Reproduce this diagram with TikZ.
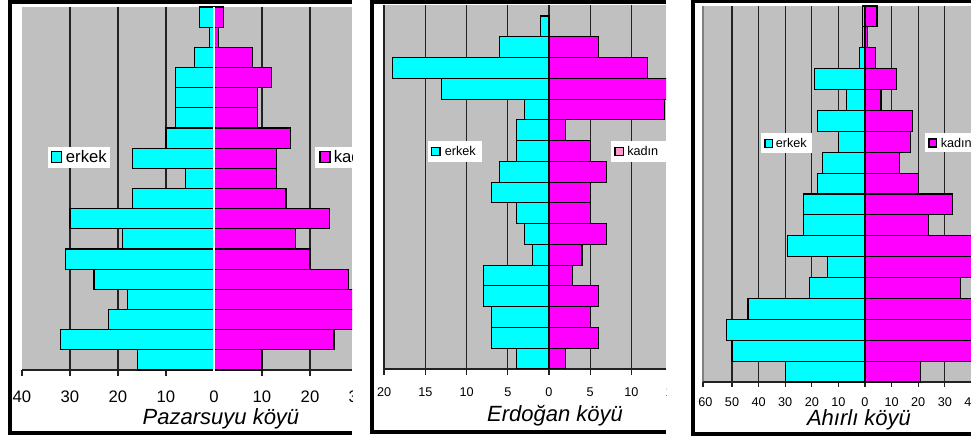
\documentclass[tikz,border=0pt]{standalone}
\usepackage{fontspec}
\setmainfont{Liberation Sans}
\definecolor{plotgray}{HTML}{C0C0C0}
\definecolor{cy}{HTML}{00FFFF}
\definecolor{mg}{HTML}{FF00FF}
\definecolor{pk}{HTML}{FF99CC}
\definecolor{gridc}{HTML}{222222}
\definecolor{bordc}{HTML}{808080}
\begin{document}
\begin{tikzpicture}[x=0.75pt,y=-0.75pt,
  bar/.style={draw=black,line width=0.8pt},
  gridln/.style={draw=gridc,line width=0.8pt},
  frameln/.style={draw=black,line width=3pt},
  legsq/.style={draw=black,line width=0.8pt},
  bigtick/.style={font=\fontsize{12.5}{14}\selectfont,anchor=base,inner sep=0pt},
  smalltick/.style={font=\fontsize{9.5}{11}\selectfont,anchor=base,inner sep=0pt},
  titletxt/.style={font=\fontsize{16.5}{19}\selectfont\itshape,anchor=base,inner sep=0pt},
  bigleg/.style={font=\fontsize{12.5}{14}\selectfont,anchor=base west,inner sep=0pt},
  smallleg/.style={font=\fontsize{9.5}{11}\selectfont,anchor=base west,inner sep=0pt}]
\useasboundingbox (0,0) rectangle (971,439);
\fill[white] (0,0) rectangle (971,439);

% ================= Panel 1: Pazarsuyu =================
\begin{scope}
\clip (0,0) rectangle (352,439);
\fill[plotgray] (22,7) rectangle (352,370);
\foreach \v in {-30,-20,-10,10,20,30}
  \draw[gridln] ({214+4.8*\v},7) -- ({214+4.8*\v},376);
\draw[gridln] (22,370) -- (352,370);
\draw[gridln] (22,370) -- (22,376);
\foreach \l/\r [count=\i from 0] in {3/2,1/1,4/8,8/12,8/9,8/9,10/16,17/13,6/13,17/15,30/24,19/17,31/20,25/28,18/30,22/30,32/25,16/10}{
  \pgfmathsetmacro\yt{7+20.1667*\i}
  \pgfmathsetmacro\yb{7+20.1667*(\i+1)}
  \filldraw[bar,fill=cy] ({214-4.8*\l},\yt) rectangle (214,\yb);
  \filldraw[bar,fill=mg] (214,\yt) rectangle ({214+4.8*\r},\yb);
}
\draw[white,line width=1.3pt] (214,7) -- (214,376);
\foreach \v/\t [count=\i] in {-40/40,-30/30,-20/20,-10/10,0/0,10/10,20/20,30/30}
  \node[bigtick] (pa\i) at ({214+4.8*\v},402.7) {\t};
\node[titletxt] (patitle) at (221,424) {Pazarsuyu köyü};
% legends
\fill[white] (47.7,146.7) rectangle (110,168.3);
\filldraw[legsq,fill=cy] (51.7,151.7) rectangle (61.7,162.7);
\node[bigleg] (paerkek) at (65.7,162.7) {erkek};
\fill[white] (315,146.7) rectangle (352,168.3);
\filldraw[legsq,fill=mg] (320,151.7) rectangle (330,162.7);
\node[bigleg] (pakadin) at (333.5,162.7) {kadın};
% frame
\draw[frameln] (352,1.5) -- (9.5,1.5) -- (9.5,432.5) -- (352,432.5);
\end{scope}

% ================= Panel 2: Erdogan =================
\begin{scope}
\clip (360,0) rectangle (666,439);
\fill[plotgray] (384,5) rectangle (666,369);
\foreach \v in {-15,-10,-5,5,10,15}
  \draw[gridln] ({549+8.24*\v},5) -- ({549+8.24*\v},375);
\draw[gridln] (384,5) -- (384,375);
\draw[gridln] (384,369) -- (666,369);
\draw[gridln] (549,5) -- (549,375);
\foreach \l/\r [count=\i from 0] in {1/0,6/6,19/12,13/15,3/14,4/2,4/5,6/7,7/5,4/5,3/7,2/4,8/2.9,8/6,7/5,7/6,4/2}{
  \pgfmathsetmacro\yt{16+20.76*\i}
  \pgfmathsetmacro\yb{16+20.76*(\i+1)}
  \filldraw[bar,fill=cy] ({549-8.24*\l},\yt) rectangle (549,\yb);
  \filldraw[bar,fill=mg] (549,\yt) rectangle ({549+8.24*\r},\yb);
}
\foreach \v/\t [count=\i] in {-20/20,-15/15,-10/10,-5/5,0/0,5/5,10/10,15/15}
  \node[smalltick] (er\i) at ({549+8.24*\v},396.7) {\t};
\node[titletxt] (ertitle) at (555,421.7) {Erdoğan köyü};
\fill[white] (428.3,140.7) rectangle (481.7,161.7);
\filldraw[legsq,fill=cy] (431.7,147.7) rectangle (440,155.5);
\node[smallleg] (ererkek) at (444.5,155.5) {erkek};
\fill[white] (610.7,140.7) rectangle (666,161.7);
\filldraw[legsq,fill=pk] (615,147.7) rectangle (623.3,155.5);
\node[smallleg] (erkadin) at (627,155.5) {kadın};
\draw[frameln] (666,1.5) -- (372,1.5) -- (372,431.5) -- (666,431.5);
\end{scope}

% ================= Panel 3: Ahirli =================
\begin{scope}
\clip (680,0) rectangle (971,439);
\fill[plotgray] (703,6) rectangle (971,382);
\draw[draw=bordc,line width=0.8pt] (703,6) -- (703,382);
\draw[gridln] (703,382) -- (703,387);
\foreach \v in {-50,-40,-30,-20,-10,10,20,30,40}
  \draw[gridln] ({865+2.66*\v},6) -- ({865+2.66*\v},387);
\draw[gridln] (703,382) -- (971,382);
\draw[gridln] (865,6) -- (865,387);
\foreach \l/\r [count=\i from 0] in {0.8/4.5,0.8/0.8,2/4,19/12,7/6,18/18,10/17,16/13,18/20,23/33,23/24,29/45,14/45,21/36,44/45,52/45,50/45,30/21}{
  \pgfmathsetmacro\yt{6+20.89*\i}
  \pgfmathsetmacro\yb{6+20.89*(\i+1)}
  \filldraw[bar,fill=cy] ({865-2.66*\l},\yt) rectangle (865,\yb);
  \filldraw[bar,fill=mg] (865,\yt) rectangle ({865+2.66*\r},\yb);
}
\foreach \v/\t [count=\i] in {-60/60,-50/50,-40/40,-30/30,-20/20,-10/10,0/0,10/10,20/20,30/30,40/40}
  \node[smalltick] (ah\i) at ({865+2.66*\v},406.7) {\t};
\node[titletxt] (ahtitle) at (859,425) {Ahırlı köyü};
\fill[white] (761,132.7) rectangle (811.7,153.3);
\filldraw[legsq,fill=cy] (765,139.3) rectangle (772.7,147.3);
\node[smallleg] (aherkek) at (775.5,147.7) {erkek};
\fill[white] (925,133.3) rectangle (971,152);
\filldraw[legsq,fill=mg] (929,139) rectangle (936.7,147);
\node[smallleg] (ahkadin) at (940.5,147.7) {kadın};
\draw[frameln] (971,1) -- (692.5,1) -- (692.5,434) -- (971,434);
\end{scope}
\end{tikzpicture}
\end{document}
